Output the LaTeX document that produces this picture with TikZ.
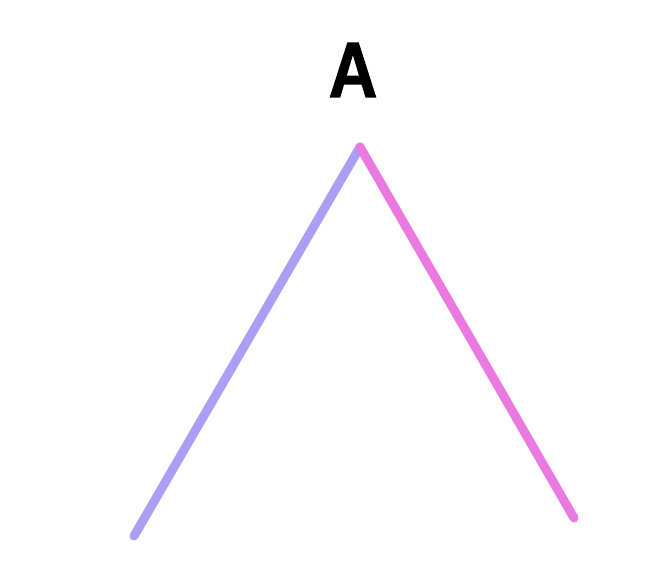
\documentclass[tikz,border=0pt]{standalone}
\usepackage{fontspec}
\usepackage{xcolor}
\usepackage{tikz}
\usetikzlibrary{positioning}
\newfontfamily\markerfont[FakeBold=4]{Fira Sans}
\definecolor{mylilac}{RGB}{171,159,245}
\definecolor{mypink}{RGB}{234,122,225}
\tikzset{
  stroke/.style={line width=6.4pt, line cap=round, line join=round},
  lilacline/.style={stroke, color=mylilac},
  pinkline/.style={stroke, color=mypink},
  letter/.style={font=\markerfont\fontsize{54}{54}\selectfont, inner sep=0pt}
}

\begin{document}
\begin{tikzpicture}
  \useasboundingbox (0,0) rectangle (16.4,14.25);
  % apex and the two free ends
  \coordinate (apex) at (9.0,10.575);
  \coordinate (leftend) at (3.35,0.85);
  \coordinate (rightend) at (14.35,1.3);
  \node[letter] (label) at (8.825,12.5) {A};

  \draw[lilacline] (apex) -- (leftend);
  \draw[pinkline] (apex) -- (rightend);
\end{tikzpicture}
\end{document}
